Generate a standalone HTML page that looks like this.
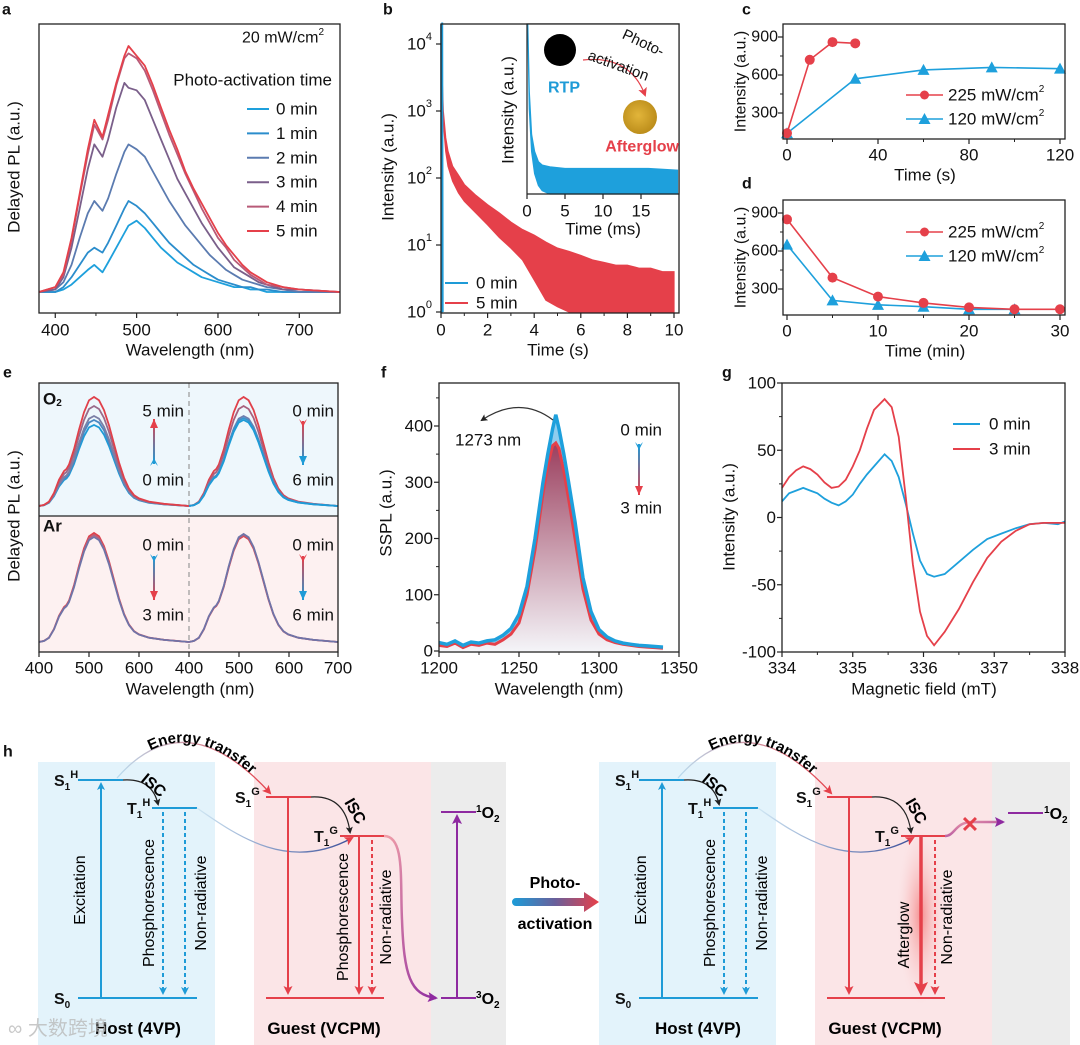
<!DOCTYPE html>
<html><head><meta charset="utf-8"><title>Figure</title>
<style>
html,body{margin:0;padding:0;background:#fff;}
svg{display:block;font-family:"Liberation Sans","Noto Sans CJK SC",sans-serif;}
</style></head>
<body>
<svg id="fig" xmlns="http://www.w3.org/2000/svg" width="1080" height="1045" viewBox="0 0 1080 1045">
<defs>
<marker id="mBlue" markerWidth="8" markerHeight="8" refX="6" refY="4" orient="auto" markerUnits="userSpaceOnUse"><path d="M0,0 L8,4 L0,8 L2,4 Z" fill="#1e9bd7"/></marker>
<marker id="mRed" markerWidth="9" markerHeight="9" refX="7" refY="4.5" orient="auto" markerUnits="userSpaceOnUse"><path d="M0,0 L9,4.5 L0,9 L2,4.5 Z" fill="#e5404a"/></marker>
<marker id="mRedBig" markerWidth="14" markerHeight="14" refX="10" refY="7" orient="auto" markerUnits="userSpaceOnUse"><path d="M0,0 L14,7 L0,14 L3,7 Z" fill="#e5404a"/></marker>
<marker id="mPurple" markerWidth="10" markerHeight="10" refX="8" refY="5" orient="auto" markerUnits="userSpaceOnUse"><path d="M0,0 L10,5 L0,10 L2,5 Z" fill="#8e2aa0"/></marker>
<marker id="mBlack" markerWidth="7" markerHeight="7" refX="5" refY="3.5" orient="auto" markerUnits="userSpaceOnUse"><path d="M0,0 L7,3.5 L0,7 L1.5,3.5 Z" fill="#222"/></marker>
<linearGradient id="gPA" x1="513" y1="0" x2="598" y2="0" gradientUnits="userSpaceOnUse"><stop offset="0" stop-color="#1e9bd7"/><stop offset="0.5" stop-color="#6a5f9a"/><stop offset="1" stop-color="#e5404a"/></linearGradient>
<linearGradient id="gET" x1="0" y1="0" x2="1" y2="0"><stop offset="0" stop-color="#b9dcef"/><stop offset="1" stop-color="#e5404a"/></linearGradient>
<linearGradient id="gHT" x1="0" y1="0" x2="1" y2="0"><stop offset="0" stop-color="#cfe6f3"/><stop offset="1" stop-color="#3c4f9a"/></linearGradient>
<linearGradient id="gOx" x1="0" y1="0" x2="1" y2="1"><stop offset="0" stop-color="#f2a0a8"/><stop offset="1" stop-color="#8e2aa0"/></linearGradient>
<linearGradient id="gF" x1="0" y1="0" x2="0" y2="1"><stop offset="0" stop-color="#9b3f5e"/><stop offset="1" stop-color="#f4f4f8"/></linearGradient>
<radialGradient id="gGlow" cx="0.5" cy="0.5" r="0.5"><stop offset="0" stop-color="#f26a6a" stop-opacity="0.7"/><stop offset="1" stop-color="#f9d0d0" stop-opacity="0"/></radialGradient>
<radialGradient id="gYel" cx="0.45" cy="0.45" r="0.6"><stop offset="0" stop-color="#e2b53a"/><stop offset="1" stop-color="#b98a18"/></radialGradient>
</defs>

<g>
  <rect x="38" y="762" width="177" height="283" fill="#e3f3fb"/>
  <rect x="254" y="762" width="177" height="283" fill="#fbe5e7"/>
  <rect x="431" y="762" width="75" height="283" fill="#ececec"/>
  <rect x="599" y="762" width="177" height="283" fill="#e3f3fb"/>
  <rect x="815" y="762" width="177" height="283" fill="#fbe5e7"/>
  <rect x="992" y="762" width="78" height="283" fill="#ececec"/>
  <ellipse cx="921" cy="915" rx="24" ry="90" fill="url(#gGlow)"/>

  <g stroke="#1e9bd7" stroke-width="2" fill="none">
    <line x1="78" y1="780" x2="123" y2="780"/><line x1="152" y1="808" x2="197" y2="808"/><line x1="78" y1="998" x2="197" y2="998"/>
    <line x1="101" y1="998" x2="101" y2="784" marker-end="url(#mBlue)"/>
    <line x1="163" y1="812" x2="163" y2="993" stroke-dasharray="4,3" marker-end="url(#mBlue)"/>
    <line x1="185" y1="812" x2="185" y2="993" stroke-dasharray="4,3" marker-end="url(#mBlue)"/>
  </g>
  <g font-weight="bold" font-size="16" fill="#111">
    <text x="54" y="786">S<tspan font-size="10" dy="4">1</tspan><tspan font-size="11" dy="-12">H</tspan></text>
    <text x="127" y="814">T<tspan font-size="10" dy="4">1</tspan><tspan font-size="11" dy="-12">H</tspan></text>
    <text x="54" y="1004">S<tspan font-size="10" dy="4">0</tspan></text>
  </g>
  <path d="M123,780 Q152,778 158,804" stroke="#222" stroke-width="1.2" fill="none" marker-end="url(#mBlack)"/>
  <text x="136" y="788" font-size="16" font-weight="bold" transform="rotate(40 148 790)">ISC</text>
  <text x="0" y="0" font-size="16" text-anchor="middle" transform="translate(85 890) rotate(-90)">Excitation</text>
  <text x="0" y="0" font-size="16" text-anchor="middle" transform="translate(154 903) rotate(-90)">Phosphorescence</text>
  <text x="0" y="0" font-size="16" text-anchor="middle" transform="translate(206 903) rotate(-90)">Non-radiative</text>
  <text x="138" y="1034" font-size="17" font-weight="bold" text-anchor="middle">Host (4VP)</text>

  <path id="etArcL" d="M117,778 Q185,700 270,793" stroke="url(#gET)" stroke-width="1.3" fill="none" marker-end="url(#mRed)"/>
  <text font-size="15" font-weight="bold"><textPath href="#etArcL" startOffset="24%">Energy transfer</textPath></text>
  <path d="M197,808 C240,838 290,872 352,838" stroke="url(#gHT)" stroke-width="1.3" fill="none" marker-end="url(#mRed)"/>
  <g stroke="#e5404a" stroke-width="2" fill="none">
    <line x1="266" y1="797" x2="311" y2="797"/><line x1="340" y1="836" x2="384" y2="836"/><line x1="266" y1="998" x2="384" y2="998"/>
    <line x1="288" y1="797" x2="288" y2="993" marker-end="url(#mRed)"/>
    <line x1="359" y1="836" x2="359" y2="993" marker-end="url(#mRed)"/>
    <line x1="372" y1="840" x2="372" y2="993" stroke-dasharray="4,3" marker-end="url(#mRed)"/>
  </g>
  <g font-weight="bold" font-size="16" fill="#111">
    <text x="235" y="803">S<tspan font-size="10" dy="4">1</tspan><tspan font-size="11" dy="-12">G</tspan></text>
    <text x="314" y="842">T<tspan font-size="10" dy="4">1</tspan><tspan font-size="11" dy="-12">G</tspan></text>
  </g>
  <path d="M311,797 Q345,795 350,832" stroke="#222" stroke-width="1.2" fill="none" marker-end="url(#mBlack)"/>
  <text x="336" y="808" font-size="16" font-weight="bold" transform="rotate(60 345 812)">ISC</text>
  <text x="0" y="0" font-size="16" text-anchor="middle" transform="translate(348 917) rotate(-90)">Phosphorescence</text>
  <text x="0" y="0" font-size="16" text-anchor="middle" transform="translate(391 917) rotate(-90)">Non-radiative</text>
  <text x="324" y="1034" font-size="17" font-weight="bold" text-anchor="middle">Guest (VCPM)</text>
  <path d="M384,836 C405,836 400,880 402,920 C404,975 410,995 436,998" stroke="url(#gOx)" stroke-width="2.5" fill="none" marker-end="url(#mPurple)"/>
  <g stroke="#8e2aa0" stroke-width="2" fill="none">
    <line x1="441" y1="812" x2="476" y2="812"/><line x1="441" y1="998" x2="476" y2="998"/>
    <line x1="457" y1="998" x2="457" y2="816" marker-end="url(#mPurple)"/>
  </g>
  <text x="476" y="818" font-size="16" font-weight="bold"><tspan font-size="10" dy="-6">1</tspan><tspan dy="6">O</tspan><tspan font-size="10" dy="4">2</tspan></text>
  <text x="476" y="1004" font-size="16" font-weight="bold"><tspan font-size="10" dy="-6">3</tspan><tspan dy="6">O</tspan><tspan font-size="10" dy="4">2</tspan></text>

  <text x="555" y="888" font-size="16" font-weight="bold" text-anchor="middle">Photo-</text>
  <path d="M516,898 L584,898 L584,892 L599,902 L584,912 L584,906 L516,906 A4,4 0 0 1 516,898 Z" fill="url(#gPA)"/>
  <text x="555" y="929" font-size="16" font-weight="bold" text-anchor="middle">activation</text>

  <g stroke="#1e9bd7" stroke-width="2" fill="none">
    <line x1="639" y1="780" x2="684" y2="780"/><line x1="713" y1="808" x2="758" y2="808"/><line x1="639" y1="998" x2="758" y2="998"/>
    <line x1="662" y1="998" x2="662" y2="784" marker-end="url(#mBlue)"/>
    <line x1="724" y1="812" x2="724" y2="993" stroke-dasharray="4,3" marker-end="url(#mBlue)"/>
    <line x1="746" y1="812" x2="746" y2="993" stroke-dasharray="4,3" marker-end="url(#mBlue)"/>
  </g>
  <g font-weight="bold" font-size="16" fill="#111">
    <text x="615" y="786">S<tspan font-size="10" dy="4">1</tspan><tspan font-size="11" dy="-12">H</tspan></text>
    <text x="688" y="814">T<tspan font-size="10" dy="4">1</tspan><tspan font-size="11" dy="-12">H</tspan></text>
    <text x="615" y="1004">S<tspan font-size="10" dy="4">0</tspan></text>
  </g>
  <path d="M684,780 Q713,778 719,804" stroke="#222" stroke-width="1.2" fill="none" marker-end="url(#mBlack)"/>
  <text x="697" y="788" font-size="16" font-weight="bold" transform="rotate(40 709 790)">ISC</text>
  <text x="0" y="0" font-size="16" text-anchor="middle" transform="translate(646 890) rotate(-90)">Excitation</text>
  <text x="0" y="0" font-size="16" text-anchor="middle" transform="translate(715 903) rotate(-90)">Phosphorescence</text>
  <text x="0" y="0" font-size="16" text-anchor="middle" transform="translate(767 903) rotate(-90)">Non-radiative</text>
  <text x="698" y="1034" font-size="17" font-weight="bold" text-anchor="middle">Host (4VP)</text>

  <path id="etArcR" d="M678,778 Q746,700 831,793" stroke="url(#gET)" stroke-width="1.3" fill="none" marker-end="url(#mRed)"/>
  <text font-size="15" font-weight="bold"><textPath href="#etArcR" startOffset="24%">Energy transfer</textPath></text>
  <path d="M758,808 C801,838 851,872 913,838" stroke="url(#gHT)" stroke-width="1.3" fill="none" marker-end="url(#mRed)"/>
  <g stroke="#e5404a" stroke-width="2" fill="none">
    <line x1="827" y1="797" x2="872" y2="797"/><line x1="901" y1="836" x2="945" y2="836"/><line x1="827" y1="998" x2="945" y2="998"/>
    <line x1="849" y1="797" x2="849" y2="993" marker-end="url(#mRed)"/>
    <line x1="921" y1="836" x2="921" y2="992" stroke-width="3.5" marker-end="url(#mRedBig)"/>
    <line x1="935" y1="840" x2="935" y2="993" stroke-dasharray="4,3" marker-end="url(#mRed)"/>
  </g>
  <g font-weight="bold" font-size="16" fill="#111">
    <text x="796" y="803">S<tspan font-size="10" dy="4">1</tspan><tspan font-size="11" dy="-12">G</tspan></text>
    <text x="875" y="842">T<tspan font-size="10" dy="4">1</tspan><tspan font-size="11" dy="-12">G</tspan></text>
  </g>
  <path d="M872,797 Q906,795 911,832" stroke="#222" stroke-width="1.2" fill="none" marker-end="url(#mBlack)"/>
  <text x="897" y="808" font-size="16" font-weight="bold" transform="rotate(60 906 812)">ISC</text>
  <text x="0" y="0" font-size="16" text-anchor="middle" transform="translate(909 935) rotate(-90)">Afterglow</text>
  <text x="0" y="0" font-size="16" text-anchor="middle" transform="translate(952 917) rotate(-90)">Non-radiative</text>
  <text x="885" y="1034" font-size="17" font-weight="bold" text-anchor="middle">Guest (VCPM)</text>
  <path d="M945,836 C955,836 955,822 972,822 L1003,822" stroke="url(#gOx)" stroke-width="2.5" fill="none" marker-end="url(#mPurple)"/>
  <text x="970" y="832" font-size="22" font-weight="bold" fill="#e5404a" text-anchor="middle">✕</text>
  <line x1="1008" y1="813" x2="1043" y2="813" stroke="#8e2aa0" stroke-width="2"/>
  <text x="1044" y="819" font-size="16" font-weight="bold"><tspan font-size="10" dy="-6">1</tspan><tspan dy="6">O</tspan><tspan font-size="10" dy="4">2</tspan></text>
  <text x="8" y="1035" font-size="20" fill="#bbb" opacity="0.8">∞ 大数跨境</text>
</g>

<g id="charts"></g>
</svg>

<script>
// ---------------- Panel a data ----------------
const aWavelengths = [380,400,410,420,430,440,448,458,465,475,485,490,500,510,520,530,540,550,560,570,580,590,600,610,620,630,640,650,660,680,700,750];
const aSeries0 = [0,0,1,3,6,9,11,8,12,18,24,27,29,26,22,18,15,12,10,8,6,5,4,3,2,2,1,1,0,0,0,0];
const aSeries1 = [0,0,2,6,11,16,18,16,20,27,34,37,35,32,28,24,20,17,14,11,9,7,5,4,3,2,2,1,1,0,0,0];
const aSeries2 = [0,1,4,11,22,32,37,33,38,48,57,60,58,55,49,43,37,32,27,23,19,15,12,9,7,5,4,3,2,1,0,0];
const aSeries3 = [0,1,6,18,34,50,60,55,62,75,85,83,82,78,70,62,54,46,40,34,28,23,18,14,10,8,6,4,3,1,1,0];
const aSeries4 = [0,2,7,21,39,56,68,62,70,84,95,97,95,90,82,73,64,56,48,41,34,28,22,18,13,10,7,5,3,2,1,0];
const aSeries5 = [0,2,8,22,40,58,70,63,72,85,96,100,96,92,84,75,66,58,49,42,36,30,24,19,15,11,8,6,4,2,1,0];
const aLabels = ["0 min","1 min","2 min","3 min","4 min","5 min"];
const aXTicks = [400,500,600,700];

// ---------------- Panel b data ----------------
const bTime = [0.03,0.05,0.1,0.2,0.3,0.5,0.75,1,1.5,2,2.5,3,3.5,4,4.5,5,5.5,6,6.5,7,7.5,8,8.5,9,9.5,10];
const bRedHi = [20000,3000,1000,400,250,150,110,80,55,40,30,22,17,14,11,9,8,7,6,5.5,5,5,4.5,4.5,4,4];
const bRedLo = [20000,2000,700,250,150,90,60,45,30,20,13,9,6,3,1.5,1.2,1,1,1,1,1,1,1,1,1,1];
const bBlueTime = [0.01,0.03,0.05,0.07];
const bBlueVal = [20000,20000,1,1];
const bXTicks = [0,2,4,6,8,10];
const bYTicks = [1,10,100,1000,10000];
const bYExp = ["0","1","2","3","4"];
const bInsetTime = [0.1,0.3,0.6,1,1.5,2,3,5,8,12,16,19.8];
const bInsetHi = [100,60,35,25,19,17,16,15,15,15,15,14];
const bInsetLo = [100,50,25,12,5,2,0,0,0,0,0,0];
const bInsetTicks = [0,5,10,15];

// ---------------- Panel c/d data ----------------
const cTime225 = [0,10,20,30];
const cVal225 = [140,720,860,850];
const cTime120 = [0,30,60,90,120];
const cVal120 = [140,570,640,660,650];
const cXTicks = [0,40,80,120];
const dTime225 = [0,5,10,15,20,25,30];
const dVal225 = [850,390,240,190,155,140,140];
const dTime120 = [0,5,10,15,20,25];
const dVal120 = [650,210,175,160,140,140];
const dXTicks = [0,10,20,30];
const cdYTicks = [300,600,900];

// ---------------- Panel e data ----------------
const eWavelengths = [400,410,420,430,440,450,455,460,470,480,490,500,510,520,530,540,550,560,570,580,590,600,620,650,700];
const eShape = [0,0.01,0.04,0.12,0.24,0.32,0.34,0.38,0.52,0.70,0.86,0.97,1,0.97,0.88,0.74,0.57,0.40,0.26,0.16,0.10,0.07,0.04,0.02,0];
const eTopLeftPeaks = [81,86,90,100,109];
const eTopRightPeaks = [109,100,90,88,86];
const eBotLeftPeaks = [109,107,105];
const eBotRightPeaks = [106,107,108];

// ---------------- Panel f data ----------------
const fWavelengths = [1200,1205,1210,1215,1220,1225,1230,1235,1240,1245,1250,1255,1260,1265,1268,1271,1273,1275,1278,1281,1285,1290,1295,1300,1305,1310,1315,1320,1325,1330,1335,1340];
const fBlue = [15,12,18,10,16,14,18,20,28,40,65,115,200,300,350,395,420,395,350,300,230,130,70,38,25,18,14,12,10,9,8,7];
const fRed = [10,8,14,6,12,10,14,12,20,30,50,100,180,280,330,365,370,360,320,270,200,110,55,30,20,15,12,10,8,7,6,5];
const fXTicks = [1200,1250,1300,1350];
const fYTicks = [0,100,200,300,400];

// ---------------- Panel g data ----------------
const gField = [334,334.1,334.2,334.3,334.4,334.5,334.6,334.7,334.8,334.9,335,335.1,335.2,335.3,335.45,335.55,335.65,335.75,335.85,335.95,336.05,336.15,336.3,336.5,336.7,336.9,337.1,337.3,337.5,337.7,337.9,338];
const g0min = [12,18,20,22,20,18,14,11,9,12,17,25,32,38,47,42,30,10,-12,-32,-42,-44,-42,-33,-24,-16,-12,-8,-5,-4,-5,-3];
const g3min = [22,30,35,38,36,32,26,22,23,28,38,50,66,80,88,82,60,15,-35,-70,-88,-95,-85,-68,-48,-30,-18,-10,-5,-4,-4,-4];
const gXTicks = [334,335,336,337,338];
const gYTicks = [-100,-50,0,50,100];

// ---------------- helpers ----------------
const NS = "http://www.w3.org/2000/svg";
const root = document.getElementById("charts");
function mk(tag, attrs, name, parent) {
  const el = document.createElementNS(NS, tag);
  for (const k in attrs) el.setAttribute(k, attrs[k]);
  
  
  (parent || root).appendChild(el);
  return el;
}
function txt(x, y, s, name, opt, parent) {
  const t = mk("text", Object.assign({x: x, y: y, "font-size": 17, fill: "#111", "dominant-baseline": "central"}, opt || {}), name, parent);
  t.textContent = s;
  return t;
}
function lin(d0, d1, r0, r1) { return v => r0 + (v - d0) * (r1 - r0) / (d1 - d0); }
function logs(yBottom, decadePx) { return v => yBottom - decadePx * Math.log10(v); }
function pts(xs, ys, sx, sy) { return xs.map((x, i) => sx(x).toFixed(1) + "," + sy(ys[i]).toFixed(1)).join(" "); }
function frame(x0, y0, x1, y1, name) {
  mk("rect", {x: x0, y: y0, width: x1 - x0, height: y1 - y0, fill: "none", stroke: "#222", "stroke-width": 1.3}, name);
}
function xTicks(ticks, minors, sx, yb, name, labels, labelY) {
  ticks.forEach((v, i) => {
    mk("line", {x1: sx(v), y1: yb, x2: sx(v), y2: yb + 5, stroke: "#222", "stroke-width": 1.2}, name + "-tick");
    txt(sx(v), labelY, labels ? labels[i] : String(v), name + "-label", {"text-anchor": "middle"});
  });
  (minors || []).forEach(v => mk("line", {x1: sx(v), y1: yb, x2: sx(v), y2: yb + 3, stroke: "#222", "stroke-width": 1}, name + "-minor-tick"));
}
function yTicks(ticks, minors, sy, xl, name, labelX, fs) {
  ticks.forEach(v => {
    mk("line", {x1: xl - 5, y1: sy(v), x2: xl, y2: sy(v), stroke: "#222", "stroke-width": 1.2}, name + "-tick");
    txt(labelX, sy(v), String(v), name + "-label", {"text-anchor": "end", "font-size": fs || 17});
  });
  (minors || []).forEach(v => mk("line", {x1: xl - 3, y1: sy(v), x2: xl, y2: sy(v), stroke: "#222", "stroke-width": 1}, name + "-minor-tick"));
}
function vtitle(x, y, s, name, fs) {
  txt(0, 0, s, name, {"text-anchor": "middle", "font-size": fs || 17, transform: "translate(" + x + " " + y + ") rotate(-90)"});
}
function gradArrow(x, yFrom, yTo, cFrom, cTo, id, name) {
  const g = mk("linearGradient", {id: id, x1: 0, y1: yFrom, x2: 0, y2: yTo, gradientUnits: "userSpaceOnUse"}, name + "-gradient");
  mk("stop", {offset: 0, "stop-color": cFrom}, name + "-stop", g);
  mk("stop", {offset: 1, "stop-color": cTo}, name + "-stop", g);
  mk("line", {x1: x, y1: yFrom, x2: x, y2: yTo, stroke: "url(#" + id + ")", "stroke-width": 2}, name);
  const d = yTo > yFrom ? 1 : -1;
  mk("path", {d: "M" + (x - 4) + "," + (yTo - 9 * d) + " L" + x + "," + yTo + " L" + (x + 4) + "," + (yTo - 9 * d) + " Z", fill: cTo}, name + "-head");
  mk("path", {d: "M" + (x - 4) + "," + (yFrom - 2 * d) + " L" + x + "," + (yFrom + 6 * d) + " L" + (x + 4) + "," + (yFrom - 2 * d) + " L" + x + "," + (yFrom + 2 * d) + " Z", fill: cFrom}, name + "-tail");
}
function panelLabel(x, y, s, name) { txt(x, y, s, name, {"font-weight": "bold", "font-size": 16}); }

// ================= Panel a =================
(function () {
  const sx = lin(380, 750, 39, 340), sy = lin(0, 100, 292, 46);
  panelLabel(2, 10, "a", "panel-a-label");
  const series = [aSeries0, aSeries1, aSeries2, aSeries3, aSeries4, aSeries5];
  const cols = ["#1ea0dc", "#2b8dcc", "#5b7bb0", "#7a5f8a", "#b85a78", "#e5404a"];
  series.forEach((s, i) => {
    mk("polyline", {points: pts(aWavelengths, s, sx, sy), fill: "none", stroke: cols[i], "stroke-width": 1.8, "stroke-linejoin": "round"}, "a-line-" + aLabels[i].replace(" ", "-"));
    const ly = 109 + i * 24.4;
    mk("line", {x1: 247, y1: ly, x2: 269, y2: ly, stroke: cols[i], "stroke-width": 2}, "a-legend-swatch");
    txt(276, ly, aLabels[i], "a-legend-entry");
  });
  frame(39, 24, 340, 313, "a-plot-frame");
  xTicks(aXTicks, [450, 550, 650], sx, 313, "a-x-axis", null, 330);
  txt(324, 38, "", "a-power-label", {"text-anchor": "end", "font-size": 16}).innerHTML = "20 mW/cm<tspan font-size='10' dy='-6'>2</tspan>";
  txt(332, 80, "Photo-activation time", "a-legend-title", {"text-anchor": "end"});
  txt(190, 350, "Wavelength (nm)", "a-x-axis-title", {"text-anchor": "middle"});
  vtitle(14, 167, "Delayed PL (a.u.)", "a-y-axis-title");
})();

// ================= Panel b =================
(function () {
  const sx = lin(0, 10, 441, 674), sy = logs(312, 67);
  panelLabel(383, 10, "b", "panel-b-label");
  const hiPts = bTime.map((t, i) => sx(t).toFixed(1) + "," + Math.max(24, sy(bRedHi[i])).toFixed(1));
  const loPts = bTime.map((t, i) => sx(t).toFixed(1) + "," + Math.max(24, sy(bRedLo[i])).toFixed(1)).reverse();
  mk("polygon", {points: hiPts.concat(loPts).join(" "), fill: "#e5404a", stroke: "#e5404a", "stroke-width": 1.2}, "b-line-5min");
  mk("polyline", {points: bBlueTime.map((t, i) => sx(t) + "," + Math.max(24, Math.min(313, sy(bBlueVal[i])))).join(" "), fill: "none", stroke: "#1e9bd7", "stroke-width": 3}, "b-line-0min");
  frame(441, 24, 679, 313, "b-plot-frame");
  bYTicks.forEach((v, i) => {
    mk("line", {x1: 436, y1: sy(v), x2: 441, y2: sy(v), stroke: "#222", "stroke-width": 1.2}, "b-y-axis-tick");
    const t = txt(432, sy(v), "", "b-y-axis-label", {"text-anchor": "end"});
    t.innerHTML = "10<tspan font-size='11' dy='-7'>" + bYExp[i] + "</tspan>";
  });
  xTicks(bXTicks, [1, 3, 5, 7, 9], sx, 313, "b-x-axis", null, 330);
  txt(558, 350, "Time (s)", "b-x-axis-title", {"text-anchor": "middle"});
  vtitle(388, 167, "Intensity (a.u.)", "b-y-axis-title");
  mk("line", {x1: 445, y1: 283, x2: 468, y2: 283, stroke: "#1e9bd7", "stroke-width": 2}, "b-legend-swatch");
  txt(476, 283, "0 min", "b-legend-entry");
  mk("line", {x1: 445, y1: 303, x2: 468, y2: 303, stroke: "#e5404a", "stroke-width": 2}, "b-legend-swatch");
  txt(476, 303, "5 min", "b-legend-entry");
  const ix = lin(0, 20, 527, 679), iy = lin(0, 100, 194, 24);
  mk("rect", {x: 527, y: 24, width: 152, height: 170, fill: "#fff"}, "b-inset-background");
  const ih = bInsetTime.map((t, i) => ix(t).toFixed(1) + "," + iy(bInsetHi[i]).toFixed(1));
  const il = bInsetTime.map((t, i) => ix(t).toFixed(1) + "," + iy(bInsetLo[i]).toFixed(1)).reverse();
  mk("polygon", {points: ih.concat(il).join(" "), fill: "#1ea0dc", stroke: "#1ea0dc", "stroke-width": 1.2}, "b-inset-line");
  mk("polyline", {points: "527,194 527,24 679,24 679,194 527,194", fill: "none", stroke: "#222", "stroke-width": 1.2}, "b-inset-frame");
  xTicks(bInsetTicks, [], ix, 194, "b-inset-x-axis", null, 211);
  txt(603, 229, "Time (ms)", "b-inset-x-axis-title", {"text-anchor": "middle"});
  vtitle(508, 110, "Intensity (a.u.)", "b-inset-y-axis-title");
  mk("circle", {cx: 560, cy: 50, r: 16, fill: "#000"}, "b-rtp-sample");
  txt(548, 88, "RTP", "b-rtp-label", {"font-weight": "bold", fill: "#1e9bd7", "font-size": 16});
  mk("circle", {cx: 640, cy: 117, r: 17, fill: "url(#gYel)"}, "b-afterglow-sample");
  txt(679, 147, "Afterglow", "b-afterglow-label", {"font-weight": "bold", fill: "#e5404a", "font-size": 16, "text-anchor": "end"});
  mk("path", {d: "M583,60 Q630,55 645,95", fill: "none", stroke: "#e5404a", "stroke-width": 1.2, "marker-end": "url(#mRed)"}, "b-activation-arrow");
  txt(620, 42, "Photo-", "b-photo-label", {"font-size": 15, transform: "rotate(25 640 45)"});
  txt(585, 65, "activation", "b-activation-label", {"font-size": 15, transform: "rotate(20 615 70)"});
})();

// ================= Panels c & d =================
function scatterPanel(prefix, top, bot, xmax, xs225, v225, xs120, v120, xt, minors, legendY, labelY, title, titleY) {
  const sx = lin(0, xmax, 787, 1060);
  const y300 = bot - 26, y900 = top + 13;
  const sy = lin(300, 900, y300, y900);
  mk("polyline", {points: pts(xs120, v120, sx, sy), fill: "none", stroke: "#1ea0dc", "stroke-width": 1.6}, prefix + "-line-120");
  xs120.forEach((x, i) => mk("path", {d: "M" + (sx(x) - 6) + "," + (sy(v120[i]) + 5) + " L" + sx(x) + "," + (sy(v120[i]) - 6) + " L" + (sx(x) + 6) + "," + (sy(v120[i]) + 5) + " Z", fill: "#1ea0dc"}, prefix + "-marker-120"));
  mk("polyline", {points: pts(xs225, v225, sx, sy), fill: "none", stroke: "#e5404a", "stroke-width": 1.6}, prefix + "-line-225");
  xs225.forEach((x, i) => mk("circle", {cx: sx(x), cy: sy(v225[i]), r: 5, fill: "#e5404a"}, prefix + "-marker-225"));
  frame(783, top, 1065, bot, prefix + "-plot-frame");
  yTicks(cdYTicks, [450, 750], sy, 783, prefix + "-y-axis", 778, 16);
  xTicks(xt, minors, sx, bot, prefix + "-x-axis", null, labelY);
  txt(925, titleY, title, prefix + "-x-axis-title", {"text-anchor": "middle"});
  vtitle(741, (top + bot) / 2, "Intensity (a.u.)", prefix + "-y-axis-title", 16);
  mk("line", {x1: 906, y1: legendY, x2: 943, y2: legendY, stroke: "#e5404a", "stroke-width": 1.6}, prefix + "-legend-swatch");
  mk("circle", {cx: 924.5, cy: legendY, r: 4.5, fill: "#e5404a"}, prefix + "-legend-marker");
  txt(948, legendY, "", prefix + "-legend-entry").innerHTML = "225 mW/cm<tspan font-size='10' dy='-6'>2</tspan>";
  const l2 = legendY + 24;
  mk("line", {x1: 906, y1: l2, x2: 943, y2: l2, stroke: "#1ea0dc", "stroke-width": 1.6}, prefix + "-legend-swatch");
  mk("path", {d: "M918.5," + (l2 + 5) + " L924.5," + (l2 - 6) + " L930.5," + (l2 + 5) + " Z", fill: "#1ea0dc"}, prefix + "-legend-marker");
  txt(948, l2, "", prefix + "-legend-entry").innerHTML = "120 mW/cm<tspan font-size='10' dy='-6'>2</tspan>";
}
panelLabel(742, 10, "c", "panel-c-label");
panelLabel(742, 184, "d", "panel-d-label");
scatterPanel("c", 24, 139, 120, cTime225, cVal225, cTime120, cVal120, cXTicks, [20, 60, 100], 95, 155, "Time (s)", 175);
scatterPanel("d", 200, 315, 30, dTime225, dVal225, dTime120, dVal120, dXTicks, [5, 15, 25], 232, 331, "Time (min)", 351);

// ================= Panel e =================
(function () {
  panelLabel(3, 373, "e", "panel-e-label");
  mk("rect", {x: 39, y: 383, width: 299, height: 133, fill: "#eef7fc"}, "e-o2-background");
  mk("rect", {x: 39, y: 516, width: 299, height: 136, fill: "#fdf1f1"}, "e-ar-background");
  const sxL = lin(400, 700, 39, 189), sxR = lin(400, 700, 189, 338);
  const syT = lin(0, 100, 506, 406), syB = lin(0, 100, 642, 542);
  function draw(peaks, cols, sx, sy, name) {
    peaks.forEach((p, i) => {
      const vals = eShape.map(s => s * p);
      mk("polyline", {points: pts(eWavelengths, vals, sx, sy), fill: "none", stroke: cols[i], "stroke-width": 1.8}, name + "-" + i);
    });
  }
  draw(eTopLeftPeaks, ["#1e9bd7", "#4a88c2", "#7b7fa6", "#9a6a8a", "#e0404a"], sxL, syT, "e-o2-activation-line");
  draw(eTopRightPeaks, ["#e0404a", "#a8607e", "#6f7fb0", "#3a92cc", "#1e9bd7"], sxR, syT, "e-o2-recovery-line");
  draw(eBotLeftPeaks, ["#e0404a", "#b8607a", "#6f74a8"], sxL, syB, "e-ar-activation-line");
  draw(eBotRightPeaks, ["#e0404a", "#b8607a", "#6f74a8"], sxR, syB, "e-ar-recovery-line");
  mk("line", {x1: 189, y1: 383, x2: 189, y2: 652, stroke: "#999", "stroke-width": 1.2, "stroke-dasharray": "5,4"}, "e-divider");
  mk("line", {x1: 39, y1: 516, x2: 338, y2: 516, stroke: "#222", "stroke-width": 1.3}, "e-middle-axis");
  frame(39, 383, 338, 652, "e-plot-frame");
  const ticks = [400, 500, 600, 400, 500, 600, 700];
  const tx = [39, 89, 139, 189, 239, 289, 338];
  ticks.forEach((v, i) => {
    mk("line", {x1: tx[i], y1: 652, x2: tx[i], y2: 657, stroke: "#222", "stroke-width": 1.2}, "e-x-axis-tick");
    txt(tx[i], 668, String(v), "e-x-axis-label", {"text-anchor": "middle"});
  });
  txt(190, 689, "Wavelength (nm)", "e-x-axis-title", {"text-anchor": "middle"});
  vtitle(14, 516, "Delayed PL (a.u.)", "e-y-axis-title");
  txt(43, 399, "", "e-o2-label", {"font-weight": "bold"}).innerHTML = "O<tspan font-size='10' dy='4'>2</tspan>";
  txt(43, 526, "Ar", "e-ar-label", {"font-weight": "bold"});
  txt(184, 411, "5 min", "e-annot", {"text-anchor": "end"});
  txt(184, 480, "0 min", "e-annot", {"text-anchor": "end"});
  gradArrow(154, 464, 419, "#1e9bd7", "#e5404a", "ge1", "e-o2-activation-arrow");
  txt(334, 411, "0 min", "e-annot", {"text-anchor": "end"});
  txt(334, 480, "6 min", "e-annot", {"text-anchor": "end"});
  gradArrow(303, 421, 465, "#e5404a", "#1e9bd7", "ge2", "e-o2-recovery-arrow");
  txt(184, 545, "0 min", "e-annot", {"text-anchor": "end"});
  txt(184, 615, "3 min", "e-annot", {"text-anchor": "end"});
  gradArrow(154, 556, 600, "#1e9bd7", "#e5404a", "ge3", "e-ar-activation-arrow");
  txt(334, 545, "0 min", "e-annot", {"text-anchor": "end"});
  txt(334, 615, "6 min", "e-annot", {"text-anchor": "end"});
  gradArrow(303, 556, 600, "#e5404a", "#1e9bd7", "ge4", "e-ar-recovery-arrow");
})();

// ================= Panel f =================
(function () {
  panelLabel(381, 373, "f", "panel-f-label");
  const sx = lin(1200, 1350, 439, 679), sy = lin(0, 400, 651, 426);
  const base = sy(0);
  const bp = pts(fWavelengths, fBlue, sx, sy);
  const rp = pts(fWavelengths, fRed, sx, sy);
  const x0 = sx(fWavelengths[0]), x1 = sx(fWavelengths[fWavelengths.length - 1]);
  mk("polygon", {points: x0 + "," + base + " " + bp + " " + x1 + "," + base, fill: "#8fcdee"}, "f-area-0min");
  mk("polygon", {points: x0 + "," + base + " " + rp + " " + x1 + "," + base, fill: "url(#gF)"}, "f-area-3min");
  mk("polyline", {points: rp, fill: "none", stroke: "#e5404a", "stroke-width": 3}, "f-line-3min");
  mk("polyline", {points: bp, fill: "none", stroke: "#1ea0dc", "stroke-width": 3.5}, "f-line-0min");
  frame(439, 383, 679, 652, "f-plot-frame");
  yTicks(fYTicks, [50, 150, 250, 350, 450], sy, 439, "f-y-axis", 433);
  xTicks(fXTicks, [1225, 1275, 1325], sx, 652, "f-x-axis", null, 668);
  txt(559, 689, "Wavelength (nm)", "f-x-axis-title", {"text-anchor": "middle"});
  vtitle(386, 513, "SSPL (a.u.)", "f-y-axis-title");
  mk("path", {d: "M553,420 Q520,395 482,420", fill: "none", stroke: "#333", "stroke-width": 1.2, "marker-end": "url(#mBlack)"}, "f-peak-arrow");
  txt(455, 440, "1273 nm", "f-peak-label");
  txt(662, 430, "0 min", "f-annot", {"text-anchor": "end"});
  gradArrow(639, 444, 495, "#1e9bd7", "#e5404a", "gf1", "f-arrow");
  txt(662, 508, "3 min", "f-annot", {"text-anchor": "end"});
})();

// ================= Panel g =================
(function () {
  panelLabel(722, 373, "g", "panel-g-label");
  const sx = lin(334, 338, 782, 1065), sy = lin(-100, 100, 652, 383);
  mk("polyline", {points: pts(gField, g0min, sx, sy), fill: "none", stroke: "#1ea0dc", "stroke-width": 1.8}, "g-line-0min");
  mk("polyline", {points: pts(gField, g3min, sx, sy), fill: "none", stroke: "#e5404a", "stroke-width": 1.8}, "g-line-3min");
  frame(782, 383, 1065, 652, "g-plot-frame");
  yTicks(gYTicks, [-75, -25, 25, 75], sy, 782, "g-y-axis", 776);
  xTicks(gXTicks, [334.5, 335.5, 336.5, 337.5], sx, 652, "g-x-axis", null, 668);
  txt(924, 689, "Magnetic field (mT)", "g-x-axis-title", {"text-anchor": "middle"});
  vtitle(729, 517, "Intensity (a.u.)", "g-y-axis-title");
  mk("line", {x1: 953, y1: 424, x2: 980, y2: 424, stroke: "#1ea0dc", "stroke-width": 2}, "g-legend-swatch");
  txt(989, 424, "0 min", "g-legend-entry");
  mk("line", {x1: 953, y1: 449, x2: 980, y2: 449, stroke: "#e5404a", "stroke-width": 2}, "g-legend-swatch");
  txt(989, 449, "3 min", "g-legend-entry");
})();
panelLabel(3, 752, "h", "panel-h-label");
</script>
</body></html>
